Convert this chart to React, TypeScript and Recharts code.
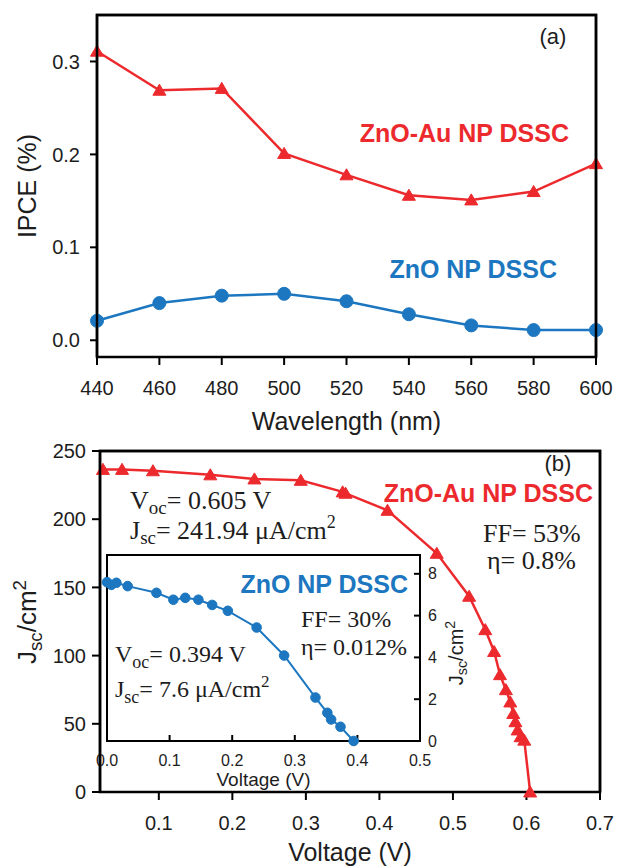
import React from 'react';
import { LineChart, Line, XAxis, YAxis, ReferenceArea, Label } from 'recharts';

// ---- Panel (a): IPCE vs wavelength ----
const wavelengths = [440, 460, 480, 500, 520, 540, 560, 580, 600];
const ipceZnOAu = [0.311, 0.269, 0.271, 0.201, 0.178, 0.156, 0.151, 0.16, 0.19];
const ipceZnO = [0.021, 0.04, 0.048, 0.05, 0.042, 0.028, 0.016, 0.011, 0.011];
const ipceTicks = [0, 0.1, 0.2, 0.3];

// ---- Panel (b): J-V of ZnO-Au NP DSSC ----
const auVoltage = [0.024, 0.05, 0.092, 0.17, 0.23, 0.293, 0.35, 0.354, 0.411, 0.478, 0.522, 0.544, 0.556, 0.564, 0.572, 0.578, 0.582, 0.585, 0.588, 0.592, 0.597, 0.605];
const auCurrent = [236.5, 236.5, 235.5, 232.5, 229.5, 228.5, 220, 219, 206.5, 175, 143.5, 119, 103, 86, 75, 66, 57.5, 51.5, 45.5, 40.5, 38, 0];
const mainVTicks = [0.1, 0.2, 0.3, 0.4, 0.5, 0.6, 0.7];
const mainJTicks = [0, 50, 100, 150, 200, 250];

// ---- Inset: J-V of ZnO NP DSSC ----
const znoVoltage = [0.0, 0.007, 0.015, 0.033, 0.079, 0.106, 0.125, 0.146, 0.168, 0.193, 0.239, 0.283, 0.333, 0.352, 0.358, 0.373, 0.394];
const znoCurrent = [7.6, 7.47, 7.57, 7.41, 7.09, 6.76, 6.85, 6.76, 6.51, 6.23, 5.43, 4.09, 2.08, 1.35, 1.03, 0.68, 0];
const insetVTicks = [0, 0.1, 0.2, 0.3, 0.4, 0.5];
const insetJTicks = [0, 2, 4, 6, 8];

const RED = '#EC2A2E';
const BLUE = '#1C77C0';
const INK = '#1d1d1d';
const SANS = '"Liberation Sans", Arial, Helvetica, sans-serif';
const SERIF = '"Liberation Serif", "Times New Roman", serif';

const ipceData = wavelengths.map((w, i) => ({ w, au: ipceZnOAu[i], zno: ipceZnO[i] }));
const auData = auVoltage.map((v, i) => ({ v, j: auCurrent[i] }));
const znoData = znoVoltage.map((v, i) => ({ v, j: znoCurrent[i] }));

const makeTriangle = (half: number, color: string) => (props: any) => {
  const { cx, cy, index } = props;
  if (cx == null || cy == null) return <g key={`t${index}`} />;
  const h = half * 1.7;
  const d = `M${cx},${cy - h * 0.55} L${cx - half},${cy + h * 0.45} L${cx + half},${cy + h * 0.45} Z`;
  return <path key={`t${index}`} d={d} fill={color} stroke={color} strokeWidth={1} />;
};

const tickStyle = { fill: INK, fontSize: 20, fontFamily: SANS };
const axisLineStyle = { stroke: '#000', strokeWidth: 2 };

function Jsc({ x, y, size, family, anchor = 'start', rotate }: any) {
  const transform = rotate ? `rotate(-90, ${x}, ${y})` : undefined;
  return (
    <text x={x} y={y} fontSize={size} fontFamily={family} fill={INK} textAnchor={anchor} transform={transform}>
      J<tspan fontSize={size * 0.72} dy={size * 0.22}>sc</tspan>
      <tspan dy={-size * 0.22}>/cm</tspan>
      <tspan fontSize={size * 0.72} dy={-size * 0.4}>2</tspan>
    </text>
  );
}

// frame outline thickness
const FRAME_W = 2.5;

export default function App() {
  return (
    <div style={{ position: 'absolute', left: 0, top: 0, width: 617, height: 866, background: '#fff', overflow: 'hidden' }}>
      {/* Panel (a) */}
      <div style={{ position: 'absolute', left: 0, top: 0 }}>
        <LineChart width={617} height={435} data={ipceData} margin={{ top: 15, right: 21, left: 0, bottom: 0 }}>
          <XAxis
            dataKey="w"
            type="number"
            domain={[440, 600]}
            ticks={wavelengths}
            interval={0}
            height={78}
            tickSize={8}
            tickMargin={16}
            tick={tickStyle}
            axisLine={axisLineStyle}
            tickLine={axisLineStyle}
          >
            <Label value="Wavelength (nm)" position="insideBottom" offset={5} style={{ fontSize: 25, fontFamily: SANS, fill: INK }} />
          </XAxis>
          <YAxis
            type="number"
            domain={[-0.018, 0.35]}
            ticks={ipceTicks}
            interval={0}
            width={97}
            tickSize={7}
            tickMargin={10}
            tickFormatter={(v: number) => v.toFixed(1)}
            tick={tickStyle}
            axisLine={axisLineStyle}
            tickLine={axisLineStyle}
          />
          <ReferenceArea x1={440} x2={600} y1={-0.018} y2={0.35} fill="none" stroke="#000" strokeWidth={FRAME_W} ifOverflow="visible" />
          <Line type="linear" dataKey="au" stroke={RED} strokeWidth={2.5} isAnimationActive={false} dot={makeTriangle(6.5, RED)} />
          <Line type="linear" dataKey="zno" stroke={BLUE} strokeWidth={2.5} isAnimationActive={false} dot={{ r: 6.5, fill: BLUE, stroke: BLUE, strokeWidth: 1 }} />
        </LineChart>
      </div>

      {/* Panel (b) */}
      <div style={{ position: 'absolute', left: 0, top: 430 }}>
        <LineChart width={617} height={436} data={auData} margin={{ top: 21, right: 17, left: 0, bottom: 0 }}>
          <XAxis
            dataKey="v"
            type="number"
            domain={[0.02, 0.7]}
            ticks={mainVTicks}
            interval={0}
            height={74}
            tickSize={8}
            tickMargin={16}
            tickFormatter={(v: number) => v.toFixed(1)}
            tick={tickStyle}
            axisLine={axisLineStyle}
            tickLine={axisLineStyle}
          >
            <Label value="Voltage (V)" position="insideBottom" offset={5} style={{ fontSize: 25, fontFamily: SANS, fill: INK }} />
          </XAxis>
          <YAxis
            type="number"
            domain={[0, 250]}
            ticks={mainJTicks}
            interval={0}
            width={100}
            tickSize={8}
            tickMargin={6}
            tick={tickStyle}
            axisLine={axisLineStyle}
            tickLine={axisLineStyle}
          />
          <ReferenceArea x1={0.02} x2={0.7} y1={0} y2={250} fill="none" stroke="#000" strokeWidth={FRAME_W} ifOverflow="visible" />
          <Line type="linear" dataKey="j" stroke={RED} strokeWidth={2.5} isAnimationActive={false} dot={makeTriangle(6.5, RED)} />
        </LineChart>
      </div>

      {/* Inset */}
      <div style={{ position: 'absolute', left: 90, top: 545 }}>
        <LineChart width={390} height={250} data={znoData} margin={{ top: 10, right: 10, left: 17, bottom: 0 }}>
          <XAxis
            dataKey="v"
            type="number"
            domain={[0, 0.5]}
            ticks={insetVTicks}
            interval={0}
            height={54}
            tickSize={-6}
            tickMargin={20}
            tickFormatter={(v: number) => v.toFixed(1)}
            tick={{ fill: INK, fontSize: 16, fontFamily: SANS }}
            axisLine={axisLineStyle}
            tickLine={axisLineStyle}
          >
            <Label value="Voltage (V)" position="insideBottom" offset={9} style={{ fontSize: 19, fontFamily: SANS, fill: INK }} />
          </XAxis>
          <YAxis
            orientation="right"
            type="number"
            domain={[0, 8.9]}
            ticks={insetJTicks}
            interval={0}
            width={50}
            tickSize={-6}
            tickMargin={14}
            tick={{ fill: INK, fontSize: 16, fontFamily: SANS }}
            axisLine={axisLineStyle}
            tickLine={axisLineStyle}
          />
          <ReferenceArea x1={0} x2={0.5} y1={0} y2={8.9} fill="none" stroke="#000" strokeWidth={2} ifOverflow="visible" />
          <Line type="linear" dataKey="j" stroke={BLUE} strokeWidth={2} isAnimationActive={false} dot={{ r: 4.8, fill: BLUE, stroke: BLUE, strokeWidth: 1 }} />
        </LineChart>
      </div>

      {/* Frame outline + annotations */}
      <svg width={617} height={866} style={{ position: 'absolute', left: 0, top: 0, pointerEvents: 'none' }}>
        <polyline points="97,357 97,15 596,15 596,357" fill="none" stroke="#000" strokeWidth={FRAME_W} />
        <polyline points="100,792 100,451 600,451 600,792" fill="none" stroke="#000" strokeWidth={FRAME_W} />

        {/* panel (a) */}
        <text x={27} y={186} fontSize={25} fontFamily={SANS} fill={INK} textAnchor="middle" dominantBaseline="central" transform="rotate(-90, 27, 186)">IPCE (%)</text>
        <text x={553} y={44} fontSize={22} fontFamily={SANS} fill={INK} textAnchor="middle">(a)</text>
        <text x={569} y={142} fontSize={25} fontWeight="bold" fontFamily={SANS} fill={RED} textAnchor="end">ZnO-Au NP DSSC</text>
        <text x={557} y={278} fontSize={25} fontWeight="bold" fontFamily={SANS} fill={BLUE} textAnchor="end">ZnO NP DSSC</text>

        {/* panel (b) */}
        <Jsc x={36} y={622} size={26} family={SANS} anchor="middle" rotate />
        <text x={558} y={471} fontSize={22} fontFamily={SANS} fill={INK} textAnchor="middle">(b)</text>
        <text x={593} y={502} fontSize={25} fontWeight="bold" fontFamily={SANS} fill={RED} textAnchor="end">ZnO-Au NP DSSC</text>
        <text x={483} y={542} fontSize={26} fontFamily={SERIF} fill={INK}>FF= 53%</text>
        <text x={487} y={569} fontSize={26} fontFamily={SERIF} fill={INK}>η= 0.8%</text>
        <text x={130} y={509} fontSize={26} fontFamily={SERIF} fill={INK}>
          V<tspan fontSize={19} dy={5}>oc</tspan><tspan dy={-5}>= 0.605 V</tspan>
        </text>
        <text x={130} y={539} fontSize={26} fontFamily={SERIF} fill={INK}>
          J<tspan fontSize={19} dy={5}>sc</tspan><tspan dy={-5}>= 241.94 μA/cm</tspan><tspan fontSize={18} dy={-11}>2</tspan>
        </text>

        {/* inset */}
        <text x={408} y={593} fontSize={25} fontWeight="bold" fontFamily={SANS} fill={BLUE} textAnchor="end">ZnO NP DSSC</text>
        <text x={301} y={627} fontSize={24} fontFamily={SERIF} fill={INK}>FF= 30%</text>
        <text x={301} y={655} fontSize={24} fontFamily={SERIF} fill={INK}>η= 0.012%</text>
        <text x={115} y={662} fontSize={24} fontFamily={SERIF} fill={INK}>
          V<tspan fontSize={18} dy={6}>oc</tspan><tspan dy={-6}>= 0.394 V</tspan>
        </text>
        <text x={115} y={697} fontSize={24} fontFamily={SERIF} fill={INK}>
          J<tspan fontSize={18} dy={6}>sc</tspan><tspan dy={-6}>= 7.6 μA/cm</tspan><tspan fontSize={17} dy={-10}>2</tspan>
        </text>
        <Jsc x={463} y={653} size={20} family={SANS} anchor="middle" rotate />
      </svg>
    </div>
  );
}
